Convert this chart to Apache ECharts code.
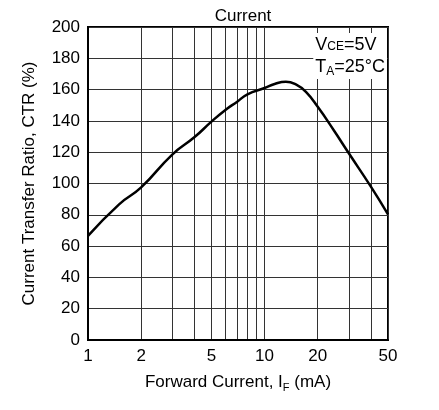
<!DOCTYPE html>
<html>
<head>
<meta charset="utf-8">
<script src="https://cdn.jsdelivr.net/npm/echarts@6/dist/echarts.min.js"></script>
<style>
  html, body { margin: 0; padding: 0; background: #fff; }
  #main { width: 439px; height: 410px; }
</style>
</head>
<body>
<div id="main"></div>
<script>
// forward current IF (mA) and CTR (%) at the grid lines
var current = [1, 1.5, 2, 3, 4, 5, 6, 7, 8, 10, 11.4, 13.2, 15.2, 17.1, 20, 24.6, 30, 40, 50];
var ctr = [66.5, 86.7, 97.5, 118.5, 129.5, 139.5, 147, 152.3, 157, 161, 163.6, 165, 163, 158.7, 149, 134.2, 119.3, 98, 80.3];
// vertical grid lines and labelled ticks on the log axis
var gridTicks = [1, 2, 3, 4, 5, 6, 7, 8, 9, 10, 20, 30, 40, 50];
var xLabels = [1, 2, 5, 10, 20, 50];

var font = 'Liberation Sans, Arial, sans-serif';
var myChart = echarts.init(document.getElementById('main'));

var option = {
    animation: false,
    title: {
        text: 'Current',
        left: 238,
        textAlign: 'center',
        top: 3,
        textStyle: { fontSize: 17, fontWeight: 'normal', color: '#000', fontFamily: font }
    },
    grid: {
        left: 88, right: 51, top: 27, bottom: 70,
        show: true, borderColor: '#000', borderWidth: 2,
        containLabel: false
    },
    xAxis: {
        type: 'log',
        logBase: 10,
        min: 1,
        max: 50,
        name: 'Forward Current, I{sub|F} (mA)',
        nameLocation: 'middle',
        nameGap: 32,
        nameTextStyle: {
            fontSize: 17, color: '#000', fontFamily: font,
            rich: { sub: { fontSize: 11, color: '#000', fontFamily: font, padding: [10, 0, 0, 0] } }
        },
        axisLine: { show: true, lineStyle: { color: '#000', width: 2 } },
        axisTick: { show: false, customValues: gridTicks },
        axisLabel: { customValues: xLabels, fontSize: 17, color: '#000', fontFamily: font, margin: 8 },
        splitLine: { show: true, lineStyle: { color: '#333', width: 1 } }
    },
    yAxis: {
        type: 'value',
        min: 0,
        max: 200,
        interval: 20,
        name: 'Current Transfer Ratio, CTR (%)',
        nameLocation: 'middle',
        nameGap: 50,
        nameTextStyle: { fontSize: 17, color: '#000', fontFamily: font },
        axisLine: { show: true, lineStyle: { color: '#000', width: 2 } },
        axisTick: { show: false },
        axisLabel: { fontSize: 17, color: '#000', fontFamily: font, margin: 8 },
        splitLine: { show: true, lineStyle: { color: '#333', width: 1 } }
    },
    graphic: [{
        type: 'text',
        right: 52,
        top: 33,
        z: 100,
        style: {
            text: '{v|V}{s|CE}{v|=5V}\n{v|T}{a|A}{v|=25°C}',
            backgroundColor: '#fff',
            padding: [1, 2, 1, 2],
            align: 'center',
            rich: {
                v: { fontSize: 18, fontFamily: font, fill: '#000', lineHeight: 22 },
                s: { fontSize: 12, fontFamily: font, fill: '#000', lineHeight: 22, verticalAlign: 'bottom', padding: [0, 0, 3, 0] },
                a: { fontSize: 12, fontFamily: font, fill: '#000', lineHeight: 22, verticalAlign: 'bottom' }
            }
        }
    }],
    series: [{
        type: 'line',
        data: current.map(function (v, i) { return [v, ctr[i]]; }),
        showSymbol: false,
        smooth: 0.5,
        lineStyle: { color: '#000', width: 2.5 },
        z: 10
    }]
};
myChart.setOption(option);
</script>
</body>
</html>
